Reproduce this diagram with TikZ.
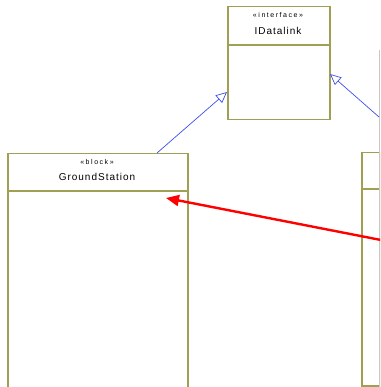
\documentclass[tikz,border=0pt]{standalone}
\usepackage{fontspec}
\setmainfont{Liberation Sans}
\usetikzlibrary{arrows.meta}
\definecolor{blockline}{RGB}{160,160,85}
\definecolor{linkblue}{RGB}{60,80,235}
\definecolor{edgegrey}{RGB}{200,200,200}
\tikzset{
  x=1pt, y=-1pt,
  block/.style={draw=blockline, line width=1.5pt, fill=white, inner sep=0pt, anchor=north west},
  divider/.style={draw=blockline, line width=1.5pt},
  stereo/.style={font=\fontsize{7}{8}\selectfont\addfontfeature{LetterSpace=22}, inner sep=0pt},
  title/.style={font=\fontsize{10}{12}\selectfont\addfontfeature{LetterSpace=10}, inner sep=0pt},
  realize/.style={draw=linkblue, line width=0.7pt, -{Triangle[open, length=11pt, width=10pt, fill=white]}},
  flow/.style={draw=red, line width=2.4pt, -{Triangle[length=13pt, width=11pt]}}
}
\begin{document}
\begin{tikzpicture}
\useasboundingbox (0,0) rectangle (380,387);
\clip (0,0) rectangle (380,387);
\fill[white] (0,0) rectangle (380,387);

% interface IDatalink
\node[block, minimum width=102pt, minimum height=113pt] (idl) at (227,6) {};
\draw[divider] (227,45) -- (329,45);
\node[stereo] (idlst) at (278,15) {«interface»};
\node[title] (idlname) at (278,31) {IDatalink};

% block GroundStation
\node[block, minimum width=180pt, minimum height=260pt] (gs) at (7,153) {};
\draw[divider] (7,191) -- (187,191);
\node[stereo] (gsst) at (97,162) {«block»};
\node[title] (gsname) at (97,177) {GroundStation};

% second block, cut off at the right edge
\node[block, minimum width=19pt, minimum height=233pt] (rb) at (361,152) {};
\draw[divider] (361,189) -- (380,189);
\draw[edgegrey, line width=0.8pt] (379.5,50) -- (379.5,387);

% realization links
\coordinate (gsTop) at (157,153);
\coordinate (idlLeft) at (227,92);
\draw[realize] (gsTop) -- (idlLeft);
\coordinate (rbLink) at (379,117);
\coordinate (idlRight) at (330,74);
\draw[realize] (rbLink) -- (idlRight);

% flow into GroundStation
\coordinate (flowStart) at (381,240);
\coordinate (gsPort) at (166,198);
\draw[flow] (flowStart) -- (gsPort);
\end{tikzpicture}
\end{document}
